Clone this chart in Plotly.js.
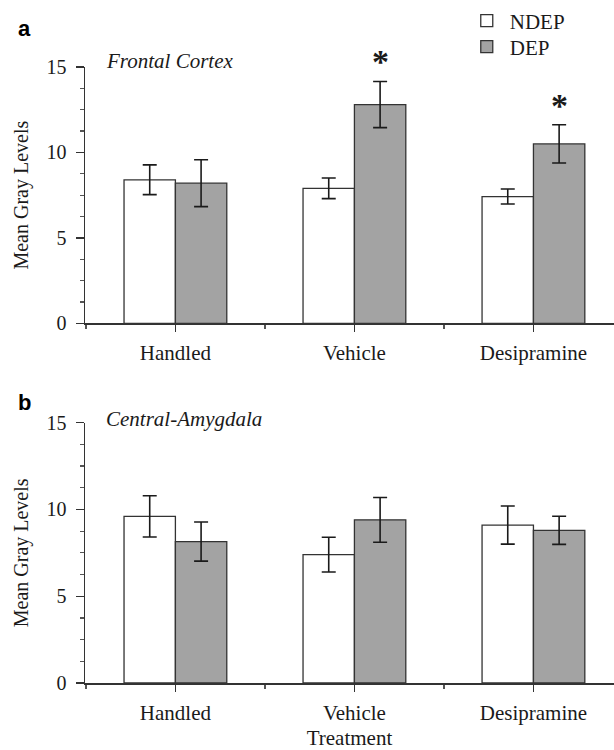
<!DOCTYPE html>
<html><head><meta charset="utf-8">
<script src="https://cdn.plot.ly/plotly-3.0.1.min.js"></script>
<style>html,body{margin:0;padding:0;background:#fff}</style>
</head><body><div id="chart" style="width:614px;height:750px"></div>
<script>
const categories = ['Handled', 'Vehicle', 'Desipramine'];
const seriesNames = ['NDEP', 'DEP'];
// Panel a: Frontal Cortex
const frontalNDEP = [8.4, 7.9, 7.42];
const frontalNDEPErr = [0.87, 0.6, 0.44];
const frontalDEP = [8.2, 12.8, 10.5];
const frontalDEPErr = [1.37, 1.35, 1.12];
const frontalSignificant = [false, true, true];
// Panel b: Central-Amygdala
const amygNDEP = [9.6, 7.4, 9.1];
const amygNDEPErr = [1.19, 1.0, 1.1];
const amygDEP = [8.15, 9.4, 8.8];
const amygDEPErr = [1.13, 1.29, 0.81];
const yTickVals = [0, 5, 10, 15];
const yRange = [0, 15];
const panelTitles = ['Frontal Cortex', 'Central-Amygdala'];
const panelLetters = ['a', 'b'];

const FONT = 'Liberation Serif, Times New Roman, serif';
const INK = '#1a1a1a';
const LINE = '#333333';
const FILLS = ['#ffffff', '#a3a3a3'];
const BARGAP = 0.426;
const xIdx = categories.map((c, i) => i);
const legendIds = ['legend', 'legend2'];

function barTrace(name, vals, errs, k, xa, ya, showLeg) {
  return {
    type: 'bar', name: name, x: xIdx, y: vals,
    xaxis: xa, yaxis: ya, showlegend: showLeg, legend: legendIds[k],
    marker: {color: FILLS[k], line: {color: LINE, width: 1.3}},
    error_y: {type: 'data', array: errs, visible: true, color: INK, thickness: 1.6, width: 7},
    hoverinfo: 'skip'
  };
}

const data = [
  barTrace(seriesNames[0], frontalNDEP, frontalNDEPErr, 0, 'x', 'y', true),
  barTrace(seriesNames[1], frontalDEP, frontalDEPErr, 1, 'x', 'y', true),
  barTrace(seriesNames[0], amygNDEP, amygNDEPErr, 0, 'x2', 'y2', false),
  barTrace(seriesNames[1], amygDEP, amygDEPErr, 1, 'x2', 'y2', false)
];

function xAxis(anchor, title) {
  const ax = {
    anchor: anchor, domain: [0, 1], range: [-0.505, 2.45],
    tickmode: 'array', tickvals: xIdx, ticktext: categories,
    ticks: 'outside', ticklen: 7, tickwidth: 1.3, tickcolor: LINE,
    ticklabelstandoff: 3,
    minor: {tickmode: 'linear', tick0: 0.5, dtick: 1, ticks: 'outside', ticklen: 4, tickwidth: 1.2, tickcolor: '#555'},
    showline: true, linecolor: LINE, linewidth: 1.5,
    showgrid: false, zeroline: false, fixedrange: true,
    tickfont: {family: FONT, size: 21, color: INK}
  };
  if (title) ax.title = {text: title, font: {family: FONT, size: 21, color: INK}, standoff: 12};
  return ax;
}
function yAxis(anchor, domain) {
  return {
    anchor: anchor, domain: domain, range: yRange,
    tickmode: 'array', tickvals: yTickVals,
    ticks: 'outside', ticklen: 8, tickwidth: 1.3, tickcolor: LINE,
    ticklabelstandoff: 5,
    minor: {tickmode: 'linear', tick0: 0, dtick: 1.25, ticks: 'outside', ticklen: 4, tickwidth: 1.2, tickcolor: '#555'},
    showline: true, linecolor: LINE, linewidth: 1.5,
    showgrid: false, zeroline: false, fixedrange: true,
    tickfont: {family: FONT, size: 20, color: INK},
    title: {text: 'Mean Gray Levels', font: {family: FONT, size: 20, color: INK}, standoff: 12}
  };
}

const depOffset = (1 - BARGAP) / 4;
const annotations = [];
frontalSignificant.forEach((sig, i) => {
  if (!sig) return;
  const top = frontalDEP[i] + frontalDEPErr[i] + 1.15;
  annotations.push({
    xref: 'x', yref: 'y domain', x: xIdx[i] + depOffset, y: (top - yRange[0]) / (yRange[1] - yRange[0]),
    text: '<b>*</b>', showarrow: false, xanchor: 'center', yanchor: 'middle',
    font: {family: FONT, size: 34, color: INK}
  });
});
[['x', 'y', 1.0246], ['x2', 'y2', 1.0123]].forEach(([xa, ya, yy], k) => {
  annotations.push({
    xref: xa + ' domain', yref: ya + ' domain', x: 0.036, y: yy,
    text: '<i>' + panelTitles[k] + '</i>', showarrow: false, xanchor: 'left', yanchor: 'middle',
    font: {family: FONT, size: 21, color: INK}
  });
});
[[1.0617], [0.4554]].forEach(([yy], k) => {
  annotations.push({
    xref: 'paper', yref: 'paper', x: -0.1144, y: yy,
    text: '<b>' + panelLetters[k] + '</b>', showarrow: false, xanchor: 'center', yanchor: 'middle',
    font: {family: 'Liberation Sans, Arial, sans-serif', size: 22, color: '#000'}
  });
});

function legendBox(yy) {
  return {
    x: 0.716, y: yy, xanchor: 'left', yanchor: 'middle', itemwidth: 36,
    bgcolor: 'rgba(0,0,0,0)', borderwidth: 0,
    font: {family: FONT, size: 21, color: INK}
  };
}

const layout = {
  width: 614, height: 750,
  margin: {l: 85, r: 0, t: 67, b: 67},
  paper_bgcolor: '#fff', plot_bgcolor: '#fff',
  barmode: 'group', bargap: BARGAP, bargroupgap: 0,
  font: {family: FONT, size: 20, color: INK},
  xaxis: xAxis('y', null),
  yaxis: yAxis('x', [0.5839, 1]),
  xaxis2: xAxis('y2', 'Treatment'),
  yaxis2: yAxis('x2', [0, 0.4226]),
  showlegend: true,
  legend: legendBox(1.0747),
  legend2: legendBox(1.0325),
  annotations: annotations
};

Plotly.newPlot('chart', data, layout, {displayModeBar: false, staticPlot: true});
</script></body></html>
